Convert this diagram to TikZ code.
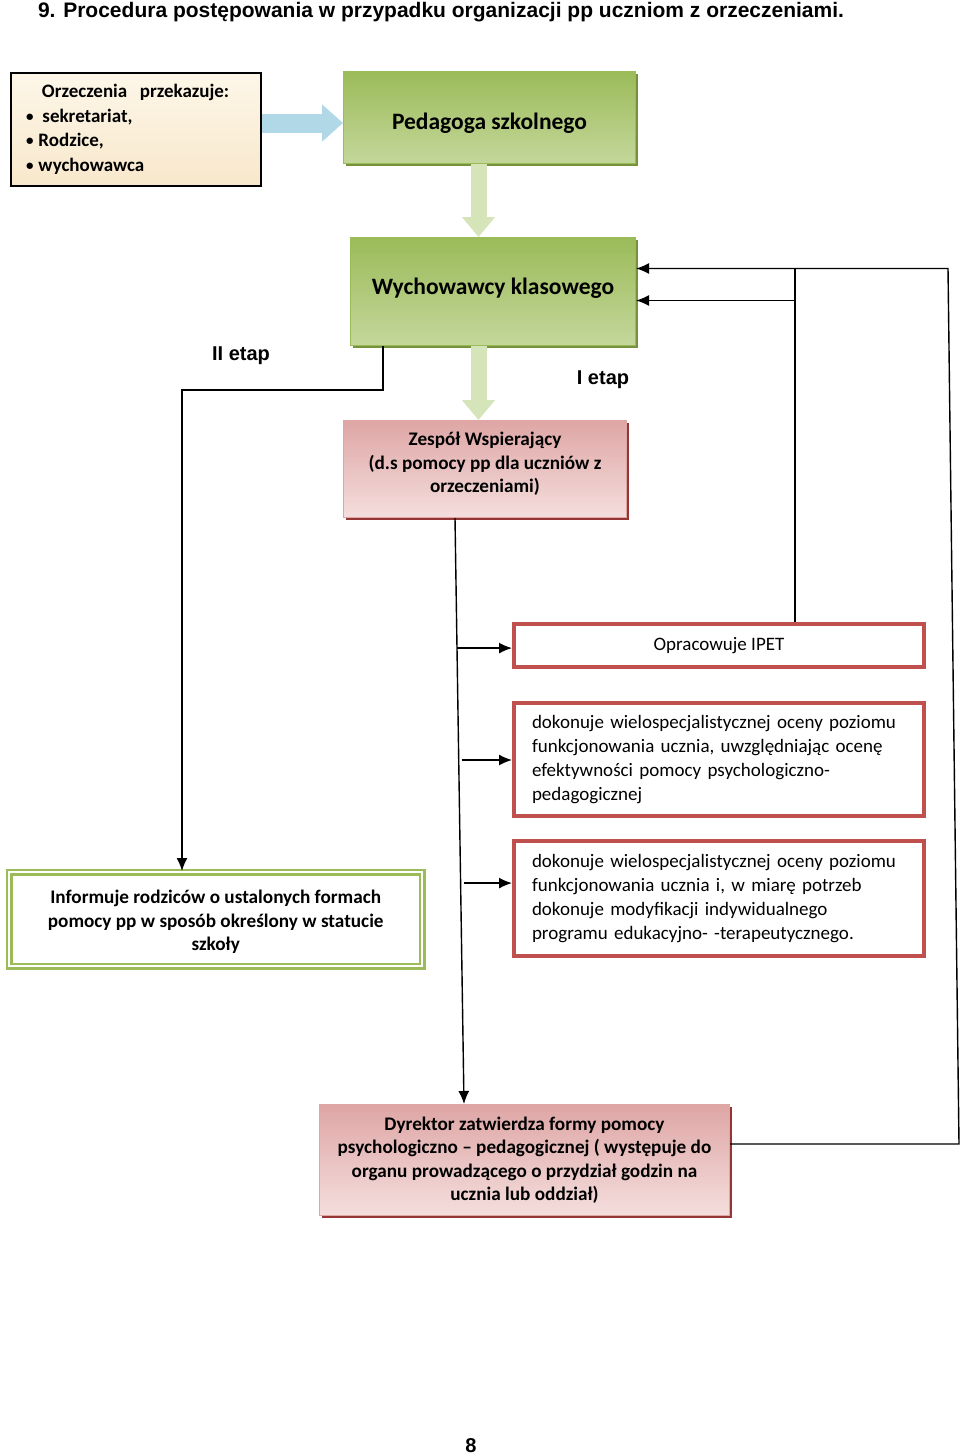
\documentclass[tikz,border=0pt]{standalone}
\usepackage{fontspec}
\setmainfont{Carlito}
\newfontfamily\arialfont{Liberation Sans}
\usetikzlibrary{arrows.meta, shadows, positioning, calc}

\definecolor{boxgreen}{RGB}{155,187,89}
\definecolor{lightgreen}{RGB}{196,215,155}
\definecolor{darkgreen}{RGB}{118,146,60}
\definecolor{arrowgreen}{RGB}{214,228,186}
\definecolor{arrowblue}{RGB}{176,216,230}
\definecolor{boxred}{RGB}{192,80,77}
\definecolor{darkpink}{RGB}{222,166,165}
\definecolor{lightpink}{RGB}{244,222,221}
\definecolor{darkred}{RGB}{148,54,52}
\definecolor{creamtop}{RGB}{253,246,232}
\definecolor{creambot}{RGB}{248,232,204}

\newcommand{\dotitem}{\raisebox{1pt}{\fontsize{15}{15}\selectfont\textbullet}}

\begin{document}
\begin{tikzpicture}[
            x = 1pt,
            y = -1pt,
            > = {Latex[length=13pt, width=11pt]},
            line width = 1.4pt,
            box/.style = {anchor=north west, inner sep=0pt, align=center},
            bigtext/.style = {font=\fontsize{23.5}{27}\selectfont\bfseries},
            boldtext/.style = {font=\fontsize{19.2}{23.5}\selectfont\bfseries},
            plaintext/.style = {font=\fontsize{19}{23.7}\selectfont},
            etap/.style = {font=\arialfont\fontsize{20}{24}\selectfont\bfseries},
            greenbox/.style = {box, bigtext, draw=boxgreen, line width=1pt,
                top color=boxgreen, bottom color=lightgreen,
                drop shadow={shadow xshift=2.5pt, shadow yshift=-2.5pt, fill=darkgreen, opacity=1}},
            pinkbox/.style = {box, boldtext, draw=darkpink, line width=1pt,
                top color=darkpink, bottom color=lightpink,
                drop shadow={shadow xshift=2.5pt, shadow yshift=-2.5pt, fill=darkred, opacity=1}},
            redbox/.style = {box, plaintext, draw=boxred, line width=4pt, fill=white},
            fatgreen/.style = {line width=16pt, draw=arrowgreen, -{Triangle[length=20pt, width=32pt]}},
            fatblue/.style = {line width=19pt, draw=arrowblue, -{Triangle[length=21pt, width=36pt]}}
        ]
        \useasboundingbox (0,0) rectangle (960,1456);

        \node[anchor=base west, font=\arialfont\fontsize{21}{24}\selectfont\bfseries] (title) at (34,17)
            {9. Procedura postępowania w przypadku organizacji pp uczniom z orzeczeniami.};

        % gorne bloki
        \node[box, align=left, minimum width=250pt, minimum height=113pt,
              text width=220pt, inner xsep=15pt, draw=black, line width=2pt,
              top color=creamtop, bottom color=creambot,
              font=\fontsize{19}{24.5}\selectfont\bfseries] (orz) at (10,72)
            {\hspace*{16pt}Orzeczenia~~przekazuje:\\
             \dotitem\hspace{9pt}sekretariat,\\
             \dotitem\hspace{5pt}Rodzice,\\
             \dotitem\hspace{5pt}wychowawca};
        \node[greenbox, minimum width=292pt, minimum height=92pt,
              text height=24pt, text depth=0pt] (ped) at (343,71) {Pedagoga szkolnego};
        \node[greenbox, minimum width=285pt, minimum height=108pt,
              text height=14pt, text depth=8pt] (wych) at (350,237) {Wychowawcy klasowego};
        \node[pinkbox, minimum width=283pt, minimum height=97pt,
              label={[boldtext, align=center, yshift=5pt]center:{Zespół Wspierający\\ (d.s pomocy pp dla uczniów z\\ orzeczeniami)}}] (zesp) at (343,420) {};

        \node[etap] (etap2) at (241,356) {II etap};
        \node[etap] (etap1) at (603,380) {I etap};

        % bloki zespolu
        \node[redbox, minimum width=410pt, minimum height=43pt] (ipet) at (512,622) {Opracowuje IPET};
        \node[redbox, align=left, text width=374pt, inner xsep=18pt, minimum height=113pt] (dok1) at (512,701)
            {dokonuje wielospecjalistycznej oceny poziomu\\
             funkcjonowania ucznia, uwzględniając ocenę\\
             efektywności pomocy psychologiczno-\\
             pedagogicznej};
        \node[redbox, align=left, text width=374pt, inner xsep=18pt, minimum height=115pt] (dok2) at (512,839)
            {dokonuje wielospecjalistycznej oceny poziomu\\
             funkcjonowania ucznia i, w miarę potrzeb\\
             dokonuje modyfikacji indywidualnego\\
             programu edukacyjno- -terapeutycznego.};

        \node[box, boldtext, minimum width=413pt, minimum height=94pt, fill=white,
              draw=boxgreen, line width=2.4pt, double=white, double distance=2.5pt,
              label={[boldtext, align=center, yshift=-3pt]center:{Informuje rodziców o ustalonych formach\\ pomocy pp w sposób określony w statucie\\ szkoły}}] (info) at (8,871) {};

        \node[pinkbox, minimum width=410pt, minimum height=111pt] (dyr) at (319,1104)
            {Dyrektor zatwierdza formy pomocy\\
             psychologiczno – pedagogicznej ( występuje do\\
             organu prowadzącego o przydział godzin na\\
             ucznia lub oddział)};

        \node[anchor=base, font=\arialfont\fontsize{20}{24}\selectfont\bfseries] (page) at (471,1452) {8};

        % grube strzalki
        \coordinate (bl) at ([yshift=6.5pt]orz.east);
        \draw[fatblue] (bl) -- (bl -| ped.west);
        \coordinate (g1) at ([xshift=-11pt]ped.south);
        \draw[fatgreen] (g1) -- (g1 |- wych.north);
        \coordinate (g2) at ([xshift=-14.5pt]wych.south);
        \draw[fatgreen] (g2) -- (g2 |- zesp.north);

        % II etap
        \coordinate (w2) at ([xshift=33pt]wych.south west);
        \coordinate (bend) at (182,390);
        \draw[->] (w2) |- (bend) -- ([xshift=174pt]info.north west);

        % I etap
        \coordinate (zs) at ([xshift=112pt]zesp.south west);
        \coordinate (dy) at ([xshift=145pt]dyr.north west);
        \draw[->] (zs) -- (dy);
        \coordinate (p1) at ($(zs)!0.222!(dy)$);
        \coordinate (p2) at ($(zs)!0.413!(dy)$);
        \coordinate (p3) at ($(zs)!0.623!(dy)$);
        \draw[->] (p1) -- (p1 -| ipet.west);
        \draw[->] ([xshift=3pt]p2) -- (p2 -| dok1.west);
        \draw[->] ([xshift=3pt]p3) -- (p3 -| dok2.west);

        % powroty
        \coordinate (wi) at ([yshift=23pt]wych.east);
        \coordinate (wo) at ([yshift=-9pt]wych.east);
        \coordinate (rb) at ($(dyr.east)+(229,-16)$);
        \coordinate (rt) at ($(wi)+(312,0)$);
        \draw[->] ([yshift=16pt]dyr.east) -- (rb) -- (rt) -- (wi);
        \coordinate (iu) at ([xshift=76pt]ipet.north);
        \draw (iu) -- (iu |- wi);
        \draw[->] (iu |- wo) -- (wo);
    \end{tikzpicture}
\end{document}
